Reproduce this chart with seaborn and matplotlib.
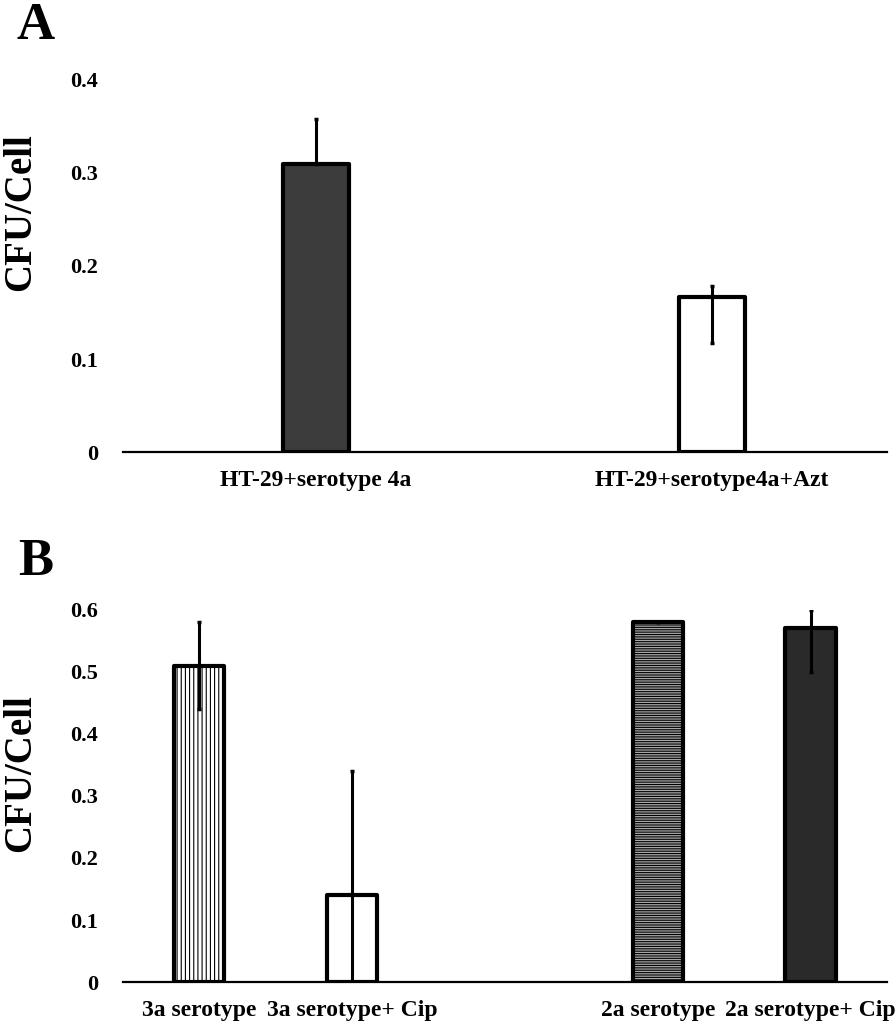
import numpy as np
import pandas as pd
import seaborn as sns
import matplotlib.pyplot as plt

# panel A
a_labels = ['HT-29+serotype 4a', 'HT-29+serotype4a+Azt']
a_values = [0.31, 0.167]
a_err_lo = [0.0, 0.05]
a_err_hi = [0.048, 0.011]
a_colors = ['#3c3c3c', 'white']
a_hatches = ['', '']

# panel B (empty slot between the two serotype groups)
b_order = ['3a serotype', '3a serotype+ Cip', '', '2a serotype', '2a serotype+ Cip']
b_labels = ['3a serotype', '3a serotype+ Cip', '2a serotype', '2a serotype+ Cip']
b_values = [0.51, 0.14, 0.58, 0.57]
b_err_lo = [0.07, 0.14, 0.0, 0.07]
b_err_hi = [0.07, 0.20, 0.0, 0.03]
b_colors = ['white', 'white', '#a8a8a8', '#2a2a2a']
b_hatches = ['||||', '', '-------', '']

sns.set_style('white')
plt.rcParams['font.family'] = ['Liberation Serif', 'DejaVu Serif']
plt.rcParams['font.weight'] = 'bold'
plt.rcParams['text.color'] = 'black'
plt.rcParams['xtick.color'] = 'black'
plt.rcParams['ytick.color'] = 'black'
plt.rcParams['axes.labelcolor'] = 'black'
plt.rcParams['hatch.linewidth'] = 0.8

fig = plt.figure(figsize=(8.96, 10.23), dpi=100)
ax_a = fig.add_axes([0.137, 0.558, 0.853, 0.364])
ax_b = fig.add_axes([0.137, 0.040, 0.853, 0.364])


def draw_panel(ax, labels, values, lo, hi, colors, hatches, order, width, ylim, yticks, label_y):
    df = pd.DataFrame({'cond': labels, 'cfu': values})
    sns.barplot(data=df, x='cond', y='cfu', order=order, hue='cond', hue_order=labels,
                palette=dict(zip(labels, colors)), legend=False, width=width,
                edgecolor='black', linewidth=3, errorbar=None, ax=ax)
    pos = [order.index(l) for l in labels]
    for p in ax.patches:
        cx = p.get_x() + p.get_width() / 2
        i = int(np.argmin([abs(cx - q) for q in pos]))
        p.set_hatch(hatches[i])
        p.set_joinstyle('round')
        p.set_zorder(2)
    ax.errorbar(pos, values, yerr=[lo, hi], fmt='none', ecolor='black',
                elinewidth=2.2, capsize=1.5, capthick=2.5, zorder=3)
    ax.set_ylim(*ylim)
    ax.set_yticks(yticks)
    ax.set_yticklabels(['0' if t == 0 else f'{t:.1f}' for t in yticks])
    ax.tick_params(axis='both', length=0)
    ax.tick_params(axis='y', pad=18, labelsize=16)
    ax.tick_params(axis='x', pad=13, labelsize=17)
    for s in ['left', 'right', 'top']:
        ax.spines[s].set_visible(False)
    ax.spines['bottom'].set_color('black')
    ax.spines['bottom'].set_linewidth(1.6)
    ax.set_xlabel('')
    ax.set_ylabel('CFU/Cell', fontsize=28, fontweight='bold')
    ax.yaxis.set_label_coords(-0.110, label_y)


draw_panel(ax_a, a_labels, a_values, a_err_lo, a_err_hi, a_colors, a_hatches,
           a_labels, 0.167, (0, 0.4), [0, 0.1, 0.2, 0.3, 0.4], 0.645)
ax_a.set_xlim(-0.487, 1.442)

draw_panel(ax_b, b_labels, b_values, b_err_lo, b_err_hi, b_colors, b_hatches,
           b_order, 0.33, (0, 0.6), [0, 0.1, 0.2, 0.3, 0.4, 0.5, 0.6], 0.56)
ax_b.set_xlim(-0.5, 4.5)

fig.text(0.018, 0.962, 'A', fontsize=38, fontweight='bold')
fig.text(0.020, 0.438, 'B', fontsize=38, fontweight='bold')

fig.savefig('out.png', dpi=100)
